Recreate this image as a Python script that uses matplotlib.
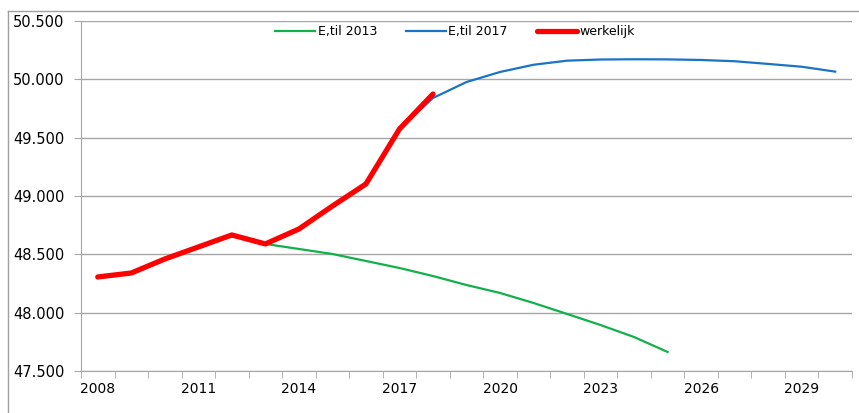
import matplotlib
matplotlib.use("Agg")
import matplotlib.pyplot as plt
from matplotlib.lines import Line2D
from matplotlib.ticker import FuncFormatter

years = list(range(2008, 2031))

werkelijk_years = list(range(2008, 2019))
werkelijk = [48.306, 48.340, 48.460, 48.563, 48.666, 48.589, 48.717, 48.914,
             49.103, 49.574, 49.874]

til2013_years = list(range(2013, 2026))
til2013 = [48.589, 48.546, 48.503, 48.443, 48.383, 48.314, 48.237, 48.169,
           48.083, 47.989, 47.894, 47.791, 47.663]

til2017_years = list(range(2017, 2031))
til2017 = [49.574, 49.840, 49.977, 50.063, 50.125, 50.160, 50.170, 50.172,
           50.171, 50.166, 50.155, 50.132, 50.108, 50.066]

W, H = 859, 413
fig = plt.figure(figsize=(W / 100, H / 100), dpi=100)
ax = fig.add_axes([81 / W, 1 - 371 / H, (852 - 81) / W, (371 - 21) / H])

ax.plot(til2013_years, til2013, color="#12b04a", lw=1.6, label="E,til 2013", zorder=3)
ax.plot(til2017_years, til2017, color="#1a74c4", lw=1.6, label="E,til 2017", zorder=3)
ax.plot(werkelijk_years, werkelijk, color="#ff0000", lw=3.8, label="werkelijk",
        solid_capstyle="round", solid_joinstyle="round", zorder=4)

ax.set_xlim(2007.5, 2030.5)
ax.set_ylim(47.5, 50.5)

ax.set_yticks([47.5, 48.0, 48.5, 49.0, 49.5, 50.0, 50.5])
ax.yaxis.set_major_formatter(FuncFormatter(lambda v, p: "%.3f" % v))
ax.grid(axis="y", color="#a6a6a6", lw=1)
ax.set_axisbelow(True)

# category axis: labels every 3 years, ticks between categories
ax.set_xticks(years[::3])
ax.set_xticks([y + 0.5 for y in range(2007, 2031)], minor=True)
ax.tick_params(axis="x", which="major", length=0, pad=8, labelsize=10)
ax.tick_params(axis="x", which="minor", length=5, color="#a6a6a6", direction="out")
ax.tick_params(axis="y", length=5, color="#a6a6a6", labelsize=10.5, pad=7)

for s in ["top", "right"]:
    ax.spines[s].set_visible(False)
ax.spines["left"].set_color("#a6a6a6")
ax.spines["bottom"].set_color("#a6a6a6")

ax.legend(loc="upper center", bbox_to_anchor=(0.485, 1.02), ncol=3, frameon=False,
          fontsize=9, handlelength=3.2, handletextpad=0.2, columnspacing=2.3)

# chart border
fig.add_artist(Line2D([8 / W, 8 / W], [0, 1 - 11 / H], color="#a0a0a0", lw=1))
fig.add_artist(Line2D([8 / W, 1], [1 - 11 / H, 1 - 11 / H], color="#a0a0a0", lw=1))

fig.savefig("out.png", dpi=100)
